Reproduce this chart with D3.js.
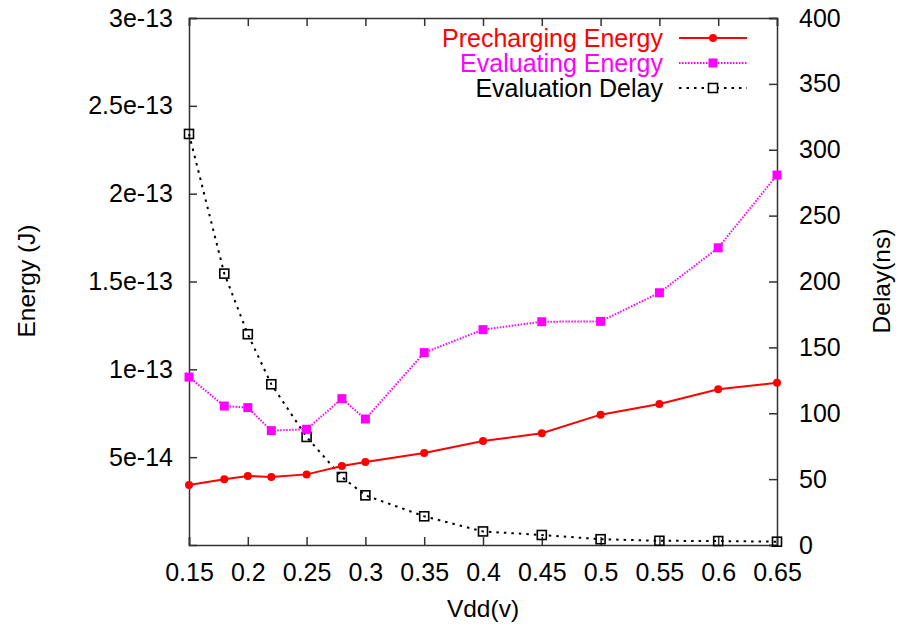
<!DOCTYPE html>
<html>
<head>
<meta charset="utf-8">
<script src="https://cdn.jsdelivr.net/npm/d3@7"></script>
<style>
  body { margin: 0; background: #fff; }
  text { font-family: "Liberation Sans", Arial, sans-serif; }
</style>
</head>
<body>
<div id="chart"></div>
<script>
// data
var vdd = [0.15, 0.18, 0.2, 0.22, 0.25, 0.28, 0.3, 0.35, 0.4, 0.45, 0.5, 0.55, 0.6, 0.65];
var prechargeEnergy = [3.42e-14, 3.74e-14, 3.93e-14, 3.87e-14, 4.02e-14, 4.50e-14, 4.72e-14, 5.24e-14, 5.92e-14, 6.36e-14, 7.42e-14, 8.03e-14, 8.86e-14, 9.24e-14];
var evalEnergy = [9.56e-14, 7.91e-14, 7.82e-14, 6.51e-14, 6.59e-14, 8.33e-14, 7.17e-14, 1.095e-13, 1.226e-13, 1.271e-13, 1.273e-13, 1.436e-13, 1.692e-13, 2.106e-13];
var evalDelay = [312, 206, 160, 122, 82, 51.6, 37.7, 21.8, 10.3, 7.6, 4.4, 3.2, 3.0, 2.5];

var xTicks = [0.15, 0.2, 0.25, 0.3, 0.35, 0.4, 0.45, 0.5, 0.55, 0.6, 0.65];
var yTicks = [5e-14, 1e-13, 1.5e-13, 2e-13, 2.5e-13, 3e-13];
var yTickLabels = ["5e-14", "1e-13", "1.5e-13", "2e-13", "2.5e-13", "3e-13"];
var y2Ticks = [0, 50, 100, 150, 200, 250, 300, 350, 400];

var seriesNames = ["Precharging Energy", "Evaluating Energy", "Evaluation Delay"];

var svgWidth = 898, svgHeight = 625;
var margin = {top: 18, right: 121, bottom: 80, left: 189};
var width = svgWidth - margin.left - margin.right;
var height = svgHeight - margin.top - margin.bottom;

var svg = d3.select("#chart").append("svg")
  .attr("width", svgWidth)
  .attr("height", svgHeight);

var g = svg.append("g")
  .attr("transform", `translate(${margin.left}, ${margin.top})`);

var x = d3.scaleLinear().domain([0.15, 0.65]).range([0, width]);
var y = d3.scaleLinear().domain([0, 3e-13]).range([height, 0]);
var y2 = d3.scaleLinear().domain([0, 400]).range([height, 0]);

var fontSize = 25;

// axes, ticks pointing inward like gnuplot
var xAxis = g.append("g")
  .attr("transform", `translate(0, ${height})`)
  .call(d3.axisBottom(x).tickValues(xTicks).tickSize(-8).tickPadding(18)
    .tickFormat(d => d3.format("")(+d.toFixed(2))));

var xTop = g.append("g")
  .call(d3.axisTop(x).tickValues(xTicks).tickSize(-8).tickFormat(""));

var yAxis = g.append("g")
  .call(d3.axisLeft(y).tickValues(yTicks).tickSize(-8).tickPadding(16)
    .tickFormat((d, i) => yTickLabels[i]));

var y2Axis = g.append("g")
  .attr("transform", `translate(${width}, 0)`)
  .call(d3.axisRight(y2).tickValues(y2Ticks).tickSize(-8).tickPadding(22));

[xAxis, xTop, yAxis, y2Axis].forEach(function(a) {
  a.select(".domain").attr("stroke", "#333").attr("stroke-width", 1.5);
  a.selectAll(".tick line").attr("stroke", "#333").attr("stroke-width", 1.5);
  a.selectAll(".tick text")
    .attr("font-size", fontSize)
    .attr("font-family", "Liberation Sans, Arial, sans-serif")
    .attr("fill", "#000");
});
xAxis.selectAll(".tick text").attr("dy", "0.71em");

// axis titles
svg.append("text")
  .attr("x", 483).attr("y", 617)
  .attr("text-anchor", "middle")
  .attr("font-size", 24.5)
  .text("Vdd(v)");

svg.append("text")
  .attr("transform", "translate(35, 281) rotate(-90)")
  .attr("text-anchor", "middle")
  .attr("font-size", 24.5)
  .text("Energy (J)");

svg.append("text")
  .attr("transform", "translate(890, 281) rotate(-90)")
  .attr("text-anchor", "middle")
  .attr("font-size", 24.5)
  .text("Delay(ns)");

var pre = vdd.map((v, i) => ({x: v, y: prechargeEnergy[i]}));
var evl = vdd.map((v, i) => ({x: v, y: evalEnergy[i]}));
var del = vdd.map((v, i) => ({x: v, y: evalDelay[i]}));

var lineY = d3.line().x(d => x(d.x)).y(d => y(d.y));
var lineY2 = d3.line().x(d => x(d.x)).y(d => y2(d.y));

// delay
g.append("path")
  .datum(del)
  .attr("fill", "none")
  .attr("stroke", "#000")
  .attr("stroke-width", 2)
  .attr("stroke-dasharray", "2.5,5")
  .attr("d", lineY2);

g.selectAll(".delayPt")
  .data(del)
  .enter()
  .append("rect")
  .attr("x", d => x(d.x) - 4.5)
  .attr("y", d => y2(d.y) - 4.5)
  .attr("width", 9).attr("height", 9)
  .attr("fill", "none")
  .attr("stroke", "#000")
  .attr("stroke-width", 1.6);

// evaluating energy
g.append("path")
  .datum(evl)
  .attr("fill", "none")
  .attr("stroke", "#ff00ff")
  .attr("stroke-width", 2)
  .attr("stroke-dasharray", "1.5,1.5")
  .attr("d", lineY);

g.selectAll(".evalPt")
  .data(evl)
  .enter()
  .append("rect")
  .attr("x", d => x(d.x) - 4.5)
  .attr("y", d => y(d.y) - 4.5)
  .attr("width", 9).attr("height", 9)
  .attr("fill", "#ff00ff");

// precharging energy
g.append("path")
  .datum(pre)
  .attr("fill", "none")
  .attr("stroke", "#ff0000")
  .attr("stroke-width", 2)
  .attr("d", lineY);

g.selectAll(".prePt")
  .data(pre)
  .enter()
  .append("circle")
  .attr("cx", d => x(d.x))
  .attr("cy", d => y(d.y))
  .attr("r", 4)
  .attr("fill", "#ff0000");

// legend
var legendColors = ["#ff0000", "#ff00ff", "#000"];
var legendDash = [null, "1.5,1.5", "2.5,5"];
var legend = svg.append("g");
seriesNames.forEach(function(name, i) {
  var cy = 38 + i * 25;
  legend.append("text")
    .attr("x", 663).attr("y", cy)
    .attr("dy", "0.35em")
    .attr("text-anchor", "end")
    .attr("font-size", 25)
    .attr("fill", legendColors[i])
    .text(name);
  legend.append("line")
    .attr("x1", 679).attr("x2", 747)
    .attr("y1", cy).attr("y2", cy)
    .attr("stroke", legendColors[i])
    .attr("stroke-width", 2)
    .attr("stroke-dasharray", legendDash[i]);
  if (i === 0) {
    legend.append("circle").attr("cx", 713).attr("cy", cy).attr("r", 4).attr("fill", legendColors[i]);
  } else if (i === 1) {
    legend.append("rect").attr("x", 708.5).attr("y", cy - 4.5).attr("width", 9).attr("height", 9).attr("fill", legendColors[i]);
  } else {
    legend.append("rect").attr("x", 708.5).attr("y", cy - 4.5).attr("width", 9).attr("height", 9)
      .attr("fill", "#fff").attr("stroke", "#000").attr("stroke-width", 1.6);
  }
});
</script>
</body>
</html>
